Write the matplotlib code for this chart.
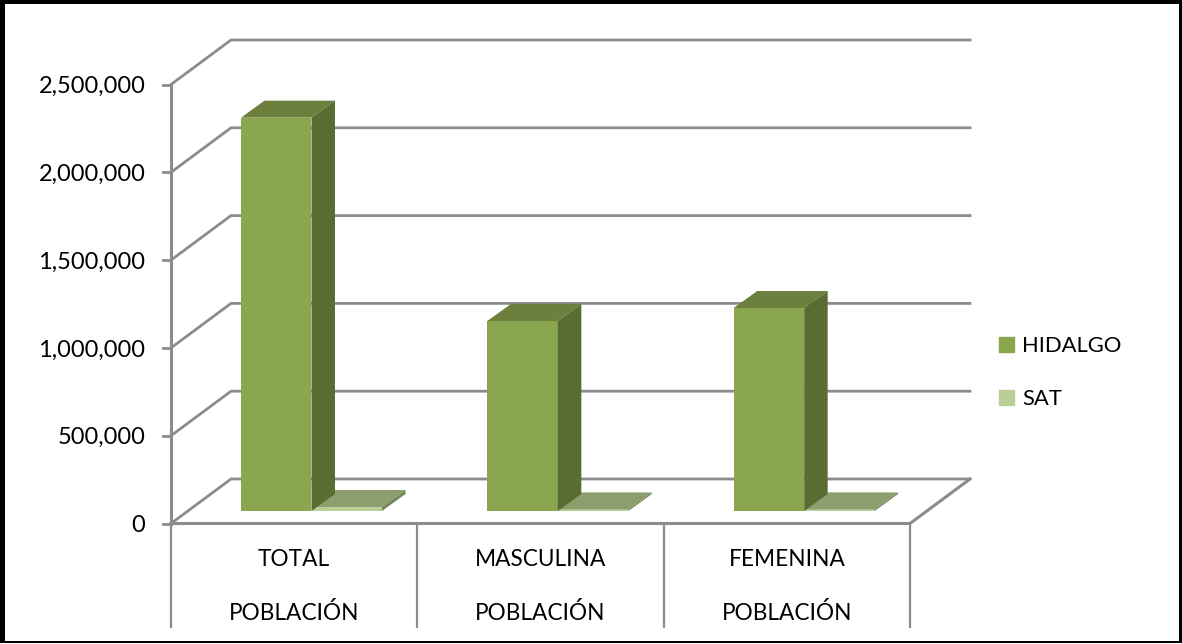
import matplotlib
matplotlib.use("Agg")
import matplotlib.pyplot as plt
from matplotlib.patches import Patch, Rectangle
from matplotlib.ticker import FuncFormatter

W, H = 1182, 644

groups = ["TOTAL", "MASCULINA", "FEMENINA"]
parent = "POBLACIÓN"
hidalgo = [2240000, 1082000, 1156000]
sat = [23000, 9000, 9000]
y_ticks = [0, 500000, 1000000, 1500000, 2000000, 2500000]

GREEN = "#8AA64F"
GREEN_TOP = "#6C7F3C"
GREEN_SIDE = "#596C31"
LIGHT = "#B9CF97"
LIGHT_TOP = "#8C9E6E"
LIGHT_SIDE = "#73875A"
GRID = "#8C8C8C"

plt.rcParams["font.family"] = ["Lato", "DejaVu Sans"]

fig = plt.figure(figsize=(W / 100, H / 100), dpi=100)
fig.patch.set_facecolor("white")

# axes = front plane of the 3d box
x0, x1, y0, y1 = 171, 910, 523.5, 84.5
ax = fig.add_axes([x0 / W, 1 - y0 / H, (x1 - x0) / W, (y0 - y1) / H])
ax.set_xlim(0, 3)
ax.set_ylim(0, 2500000)
ax.patch.set_visible(False)
for s in ax.spines.values():
    s.set_visible(False)

px_x = 3 / (x1 - x0)
px_y = 2500000 / (y0 - y1)
depth_x = 60 * px_x
depth_y = 44.5 * px_y

# back wall gridlines and the slanted side lines
for v in y_ticks:
    ax.plot([0, depth_x, 3 + depth_x], [v, v + depth_y, v + depth_y],
            color=GRID, lw=2, clip_on=False, solid_joinstyle="miter", zorder=1)
ax.plot([0, 3, 3 + depth_x], [0, 0, depth_y], color=GRID, lw=2.2,
        clip_on=False, zorder=2)
ax.plot([0, 0], [0, 2500000], color=GRID, lw=2.2, clip_on=False, zorder=2)
for v in y_ticks:
    ax.plot([-8 * px_x, 0], [v, v], color=GRID, lw=2, clip_on=False, zorder=2)

# box below the floor that holds the two category levels
for i in range(4):
    ax.plot([i, i], [0, -103 * px_y], color=GRID, lw=1.6, clip_on=False, zorder=2)


def bar3d(left, width, value, front, top, side, z):
    b = 12.5 * px_y
    dx = 16 * px_x
    ddx = 23.5 * px_x
    ddy = 17 * px_y
    l = left + dx
    r = l + width
    ax.bar(l, value, width, bottom=b, align="edge", color=front, zorder=z)
    ax.fill([l, r, r + ddx, l + ddx], [b + value, b + value, b + value + ddy, b + value + ddy],
            color=top, lw=0, zorder=z)
    ax.fill([r, r + ddx, r + ddx, r], [b, b + ddy, b + value + ddy, b + value],
            color=side, lw=0, zorder=z)


bar_w = 70.5 * px_x
for i in range(3):
    left = i + 54 * px_x
    bar3d(left + bar_w, bar_w, sat[i], LIGHT, LIGHT_TOP, LIGHT_SIDE, 3)
    bar3d(left, bar_w, hidalgo[i], GREEN, GREEN_TOP, GREEN_SIDE, 4)

ax.set_yticks(y_ticks)
ax.yaxis.set_major_formatter(FuncFormatter(lambda v, p: f"{int(v):,}"))
ax.tick_params(axis="y", length=0, pad=18.5, labelsize=17, labelcolor="black")
for lab in ax.get_yticklabels():
    lab.set_verticalalignment("center_baseline")
ax.set_xticks([])

for i, g in enumerate(groups):
    ax.text(i + 0.5, -36 * px_y, g, ha="center", va="center", fontsize=16.3, clip_on=False)
    ax.text(i + 0.5, -89 * px_y, parent, ha="center", va="center", fontsize=16.3, clip_on=False)

fig.legend(handles=[Patch(color=GREEN, label="HIDALGO"), Patch(color=LIGHT, label="SAT")],
           loc="center left", bbox_to_anchor=(999 / W, 1 - 372.5 / H), frameon=False,
           fontsize=15.8, handlelength=0.685, handleheight=0.685, handletextpad=0.36,
           labelspacing=1.51, borderpad=0, borderaxespad=0)

# black frame around the picture, heavier on the left and top
for (fx, fy, fw, fh) in [(0, 1, 5, 642), (0, 1, 1182, 2), (1179, 1, 3, 642), (0, 640, 1182, 3.5)]:
    fig.add_artist(Rectangle((fx / W, fy / H), fw / W, fh / H, transform=fig.transFigure,
                             fc="black", ec="none"))

fig.savefig("out.png", dpi=100)
